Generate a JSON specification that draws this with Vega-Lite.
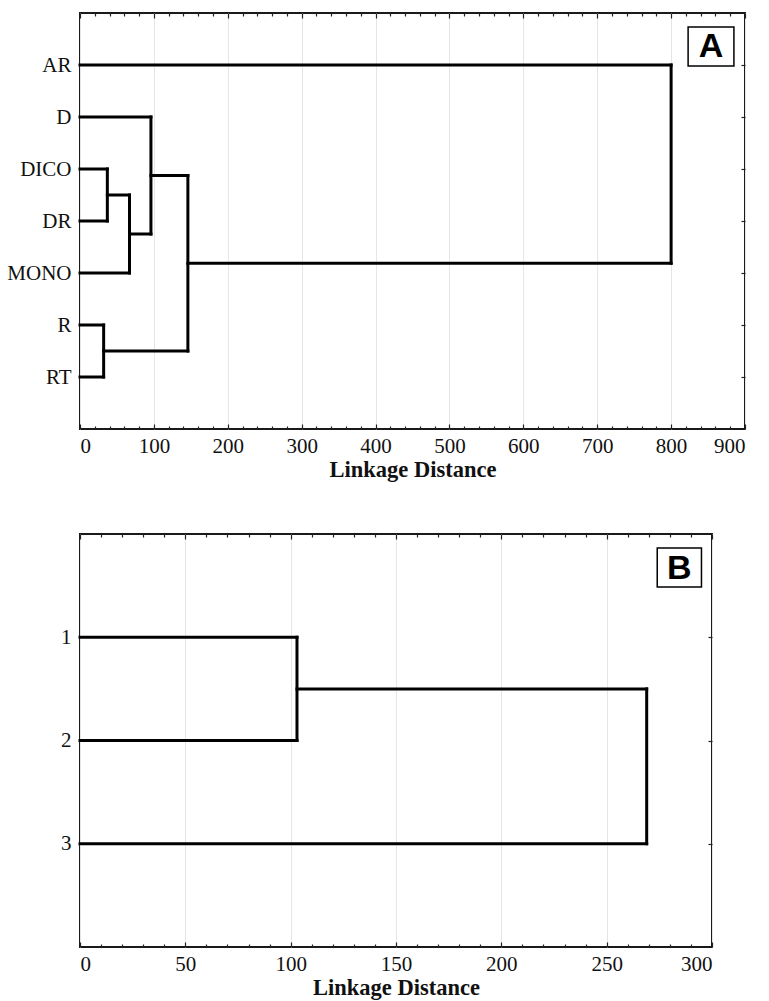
{
  "$schema": "https://vega.github.io/schema/vega-lite/v6.json",
  "padding": {"left": 5, "top": 11, "right": 5, "bottom": 0},
  "spacing": 50,
  "config": {
    "view": {"stroke": "#1a1a1a", "strokeWidth": 2},
    "axis": {
      "labelFont": "Liberation Serif", "labelFontSize": 21, "labelColor": "#111",
      "titleFont": "Liberation Serif", "titleFontSize": 22.5, "titleFontWeight": "bold", "titleColor": "#111",
      "domain": false, "tickColor": "#222", "tickWidth": 1.2,
      "gridColor": "#e6e6e6", "gridWidth": 1
    }
  },
  "datasets": {
    "segA": [
      {"x": 0, "x2": 800, "y": 1, "y2": 1},
      {"x": 0, "x2": 96, "y": 2, "y2": 2},
      {"x": 0, "x2": 37, "y": 3, "y2": 3},
      {"x": 0, "x2": 37, "y": 4, "y2": 4},
      {"x": 0, "x2": 67, "y": 5, "y2": 5},
      {"x": 0, "x2": 32, "y": 6, "y2": 6},
      {"x": 0, "x2": 32, "y": 7, "y2": 7},
      {"x": 37, "x2": 37, "y": 3, "y2": 4},
      {"x": 37, "x2": 67, "y": 3.5, "y2": 3.5},
      {"x": 67, "x2": 67, "y": 3.5, "y2": 5},
      {"x": 67, "x2": 96, "y": 4.25, "y2": 4.25},
      {"x": 96, "x2": 96, "y": 2, "y2": 4.25},
      {"x": 96, "x2": 146, "y": 3.125, "y2": 3.125},
      {"x": 32, "x2": 32, "y": 6, "y2": 7},
      {"x": 32, "x2": 146, "y": 6.5, "y2": 6.5},
      {"x": 146, "x2": 146, "y": 3.125, "y2": 6.5},
      {"x": 146, "x2": 800, "y": 4.8125, "y2": 4.8125},
      {"x": 800, "x2": 800, "y": 1, "y2": 4.8125}
    ],
    "segB": [
      {"x": 0, "x2": 103, "y": 1, "y2": 1},
      {"x": 0, "x2": 103, "y": 2, "y2": 2},
      {"x": 103, "x2": 103, "y": 1, "y2": 2},
      {"x": 103, "x2": 269, "y": 1.5, "y2": 1.5},
      {"x": 0, "x2": 269, "y": 3, "y2": 3},
      {"x": 269, "x2": 269, "y": 1.5, "y2": 3}
    ],
    "boxA": [{"x": 823, "x2": 885, "y": 0.27, "y2": 1.02, "cx": 854, "cy": 0.66, "label": "A"}],
    "boxB": [{"x": 274, "x2": 295, "y": 0.136, "y2": 0.513, "cx": 284.5, "cy": 0.335, "label": "B"}]
  },
  "vconcat": [
    {
      "width": 665,
      "height": 416,
      "resolve": {"axis": {"x": "independent", "y": "independent"}},
      "layer": [
        {
          "data": {"name": "segA"},
          "mark": {"type": "rule", "strokeWidth": 3, "color": "black", "strokeCap": "square"},
          "encoding": {
            "x": {"field": "x", "type": "quantitative",
              "scale": {"domain": [0, 900], "nice": false, "zero": false},
              "axis": {"orient": "bottom", "title": "Linkage Distance", "titlePadding": 2,
                "values": [0,20,40,60,80,100,120,140,160,180,200,220,240,260,280,300,320,340,360,380,400,420,440,460,480,500,520,540,560,580,600,620,640,660,680,700,720,740,760,780,800,820,840,860,880,900],
                "labelExpr": "datum.value % 100 === 0 ? datum.label : ''",
                "grid": true,
                "gridOpacity": {"condition": {"test": "datum.value % 100 === 0", "value": 1}, "value": 0},
                "tickSize": {"condition": {"test": "datum.value % 100 === 0", "value": -5}, "value": -3},
                "labelPadding": 11}},
            "x2": {"field": "x2"},
            "y": {"field": "y", "type": "quantitative",
              "scale": {"domain": [0, 8], "reverse": true, "nice": false, "zero": false},
              "axis": {"orient": "left", "title": null, "values": [1,2,3,4,5,6,7],
                "labelExpr": "['','AR','D','DICO','DR','MONO','R','RT'][datum.value]",
                "ticks": false, "grid": false, "labelPadding": 9}},
            "y2": {"field": "y2"}
          }
        },
        {
          "data": {"name": "boxA"},
          "mark": {"type": "rect", "fill": "white", "stroke": "black", "strokeWidth": 1.5},
          "encoding": {
            "x": {"field": "x", "type": "quantitative",
              "scale": {"domain": [0, 900], "nice": false, "zero": false},
              "axis": {"orient": "top", "title": null, "labels": false, "grid": false,
                "values": [0,20,40,60,80,100,120,140,160,180,200,220,240,260,280,300,320,340,360,380,400,420,440,460,480,500,520,540,560,580,600,620,640,660,680,700,720,740,760,780,800,820,840,860,880,900],
                "tickSize": {"condition": {"test": "datum.value % 100 === 0", "value": -5}, "value": -3}}},
            "x2": {"field": "x2"},
            "y": {"field": "y", "type": "quantitative",
              "scale": {"domain": [0, 8], "reverse": true, "nice": false, "zero": false},
              "axis": {"orient": "right", "title": null, "labels": false, "grid": false,
                "values": [1,2,3,4,5,6,7], "tickSize": -4}},
            "y2": {"field": "y2"}
          }
        },
        {
          "data": {"name": "boxA"},
          "mark": {"type": "text", "font": "Liberation Sans", "fontWeight": "bold", "fontSize": 34, "baseline": "middle", "align": "center", "color": "black"},
          "encoding": {
            "x": {"field": "cx", "type": "quantitative", "scale": {"domain": [0, 900], "nice": false, "zero": false}, "axis": null},
            "y": {"field": "cy", "type": "quantitative", "scale": {"domain": [0, 8], "reverse": true, "nice": false, "zero": false}, "axis": null},
            "text": {"field": "label"}
          }
        }
      ]
    },
    {
      "width": 632,
      "height": 413,
      "resolve": {"axis": {"x": "independent", "y": "independent"}},
      "layer": [
        {
          "data": {"name": "segB"},
          "mark": {"type": "rule", "strokeWidth": 3, "color": "black", "strokeCap": "square"},
          "encoding": {
            "x": {"field": "x", "type": "quantitative",
              "scale": {"domain": [0, 300], "nice": false, "zero": false},
              "axis": {"orient": "bottom", "title": "Linkage Distance", "titlePadding": 2,
                "values": [0,10,20,30,40,50,60,70,80,90,100,110,120,130,140,150,160,170,180,190,200,210,220,230,240,250,260,270,280,290,300],
                "labelExpr": "datum.value % 50 === 0 ? datum.label : ''",
                "grid": true,
                "gridOpacity": {"condition": {"test": "datum.value % 50 === 0", "value": 1}, "value": 0},
                "tickSize": {"condition": {"test": "datum.value % 50 === 0", "value": -5}, "value": -3},
                "labelPadding": 11}},
            "x2": {"field": "x2"},
            "y": {"field": "y", "type": "quantitative",
              "scale": {"domain": [0, 4], "reverse": true, "nice": false, "zero": false},
              "axis": {"orient": "left", "title": null, "values": [1,2,3],
                "ticks": false, "grid": false, "labelPadding": 9}},
            "y2": {"field": "y2"}
          }
        },
        {
          "data": {"name": "boxB"},
          "mark": {"type": "rect", "fill": "white", "stroke": "black", "strokeWidth": 1.5},
          "encoding": {
            "x": {"field": "x", "type": "quantitative",
              "scale": {"domain": [0, 300], "nice": false, "zero": false},
              "axis": {"orient": "top", "title": null, "labels": false, "grid": false,
                "values": [0,10,20,30,40,50,60,70,80,90,100,110,120,130,140,150,160,170,180,190,200,210,220,230,240,250,260,270,280,290,300],
                "tickSize": {"condition": {"test": "datum.value % 50 === 0", "value": -5}, "value": -3}}},
            "x2": {"field": "x2"},
            "y": {"field": "y", "type": "quantitative",
              "scale": {"domain": [0, 4], "reverse": true, "nice": false, "zero": false},
              "axis": {"orient": "right", "title": null, "labels": false, "grid": false,
                "values": [1,2,3], "tickSize": -4}},
            "y2": {"field": "y2"}
          }
        },
        {
          "data": {"name": "boxB"},
          "mark": {"type": "text", "font": "Liberation Sans", "fontWeight": "bold", "fontSize": 34, "baseline": "middle", "align": "center", "color": "black"},
          "encoding": {
            "x": {"field": "cx", "type": "quantitative", "scale": {"domain": [0, 300], "nice": false, "zero": false}, "axis": null},
            "y": {"field": "cy", "type": "quantitative", "scale": {"domain": [0, 4], "reverse": true, "nice": false, "zero": false}, "axis": null},
            "text": {"field": "label"}
          }
        }
      ]
    }
  ]
}
